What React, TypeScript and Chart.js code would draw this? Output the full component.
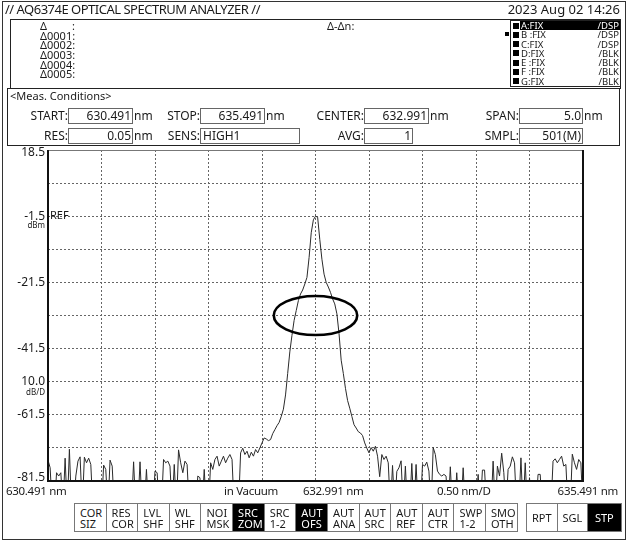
import React, { useEffect, useRef } from "react";
import { Chart, registerables } from "chart.js";

Chart.register(...registerables);

// ---------- data ----------
const START_NM = 630.491;
const STOP_NM = 635.491;
const STEP_NM = 0.02; // sample spacing used for the hand-read trace
const Y_MIN = -81.5;
const Y_MAX = 18.5;

const xTickValues = [630.491, 630.991, 631.491, 631.991, 632.491, 632.991, 633.491, 633.991, 634.491, 634.991, 635.491];
const yTickValues = [18.5, 8.5, -1.5, -11.5, -21.5, -31.5, -41.5, -51.5, -61.5, -71.5, -81.5];
// inner tick labels drawn by the axis; the two edge labels are nudged inside the plot height
const yTickLabels = ["", "", "-1.5", "", "-21.5", "", "-41.5", "10.0", "-61.5", "", ""];
const yEdgeLabels = ["18.5", "-81.5"];

// level in dBm, one value every STEP_NM starting at START_NM (-90 = below display floor)
const levelsDbm = [
  -75.2, -77.5, -90, -90, -79, -80, -79, -90, -74.6, -90,
  -71.9, -90, -90, -80, -75.5, -74.2, -90, -74.3, -76, -74.6,
  -76.5, -90, -90, -90, -90, -90, -76.7, -78, -90, -75.2,
  -77, -90, -90, -90, -90, -90, -90, -90, -90, -90,
  -75.7, -90, -90, -75.7, -90, -90, -78, -90, -90, -90,
  -78.5, -79, -90, -90, -75, -76, -75.5, -77, -90, -76.5,
  -90, -72.1, -76, -79, -75.5, -76.5, -90, -90, -90, -90,
  -80, -80.5, -90, -78, -90, -90, -76, -78, -75, -74,
  -77, -75.5, -74, -76, -74.6, -73.5, -75, -90, -90, -90,
  -73, -71.6, -73.5, -72.5, -74.5, -72.8, -74, -72, -73, -71.5,
  -70, -68.5, -68.8, -69.3, -69, -67.2, -66, -64.8, -63.8, -62,
  -59.8, -55.5, -49, -42.5, -37.5, -33, -30, -27, -25, -23.8,
  -22, -20, -14, -6.5, -2.6, -1.5, -1.8, -8.5, -14.5, -19,
  -21.5, -22.9, -24.5, -26.5, -28, -31, -37, -45, -49, -53.5,
  -57.2, -59.5, -62, -64.5, -65.5, -66.6, -67, -67.8, -70, -71.6,
  -73, -71.4, -72.5, -71, -74, -80.2, -73.5, -75, -74, -76,
  -90, -76.8, -90, -78.6, -77.5, -75.4, -90, -77, -90, -90,
  -76.2, -90, -76.5, -90, -90, -76.5, -77, -75.8, -78.5, -90,
  -71.4, -73.5, -78.5, -79.5, -80, -79.5, -80, -90, -77.2, -90,
  -90, -79, -90, -90, -77.5, -90, -90, -90, -90, -90,
  -90, -79.5, -90, -78.2, -78.2, -90, -90, -90, -75.5, -90,
  -77, -80, -73.1, -79, -90, -78, -77, -74.2, -76, -90,
  -90, -74.5, -90, -76, -90, -80.5, -90, -90, -90, -79.5,
  -79.5, -90, -90, -90, -90, -90, -75.5, -74.8, -76, -75,
  -74, -77, -76.5, -90, -90, -73.4, -76, -78, -75, -76,
  -90,
];

// highlight ellipse annotation (value coordinates)
const ellipseCenterNm = 632.991;
const ellipseCenterDbm = -31.5;
const ellipseHalfWidthNm = 0.39;
const ellipseHalfHeightDb = 5.9;

const deltaRows = ["Δ0001:", "Δ0002:", "Δ0003:", "Δ0004:", "Δ0005:"];
const traceNames = ["A:FIX", "B :FIX", "C:FIX", "D:FIX", "E :FIX", "F :FIX", "G:FIX"];
const traceModes = ["/DSP", "/DSP", "/DSP", "/BLK", "/BLK", "/BLK", "/BLK"];
const softKeysTop = ["COR", "RES", "LVL", "WL", "NOI", "SRC", "SRC", "AUT", "AUT", "AUT", "AUT", "AUT", "SWP", "SMO"];
const softKeysBottom = ["SIZ", "COR", "SHF", "SHF", "MSK", "ZOM", "1-2", "OFS", "ANA", "SRC", "REF", "CTR", "1-2", "OTH"];
const softKeysActive = [false, false, false, false, false, true, false, true, false, false, false, false, false, false];
const sweepKeys = ["RPT", "SGL", "STP"];
const sweepActive = [false, false, true];

const FONT = '"Noto Sans", "DejaVu Sans", sans-serif';
const INK = "#1a1a1a";

type Field = { label: string; left: number; top: number; width: number; value: string; unit: string; alignLeft?: boolean };
const fields: Field[] = [
  { label: "START:", left: 68, top: 108, width: 65, value: "630.491", unit: "nm" },
  { label: "STOP:", left: 200, top: 108, width: 65, value: "635.491", unit: "nm" },
  { label: "CENTER:", left: 364, top: 108, width: 65, value: "632.991", unit: "nm" },
  { label: "SPAN:", left: 519, top: 108, width: 64, value: "5.0", unit: "nm" },
  { label: "RES:", left: 68, top: 128, width: 65, value: "0.05", unit: "nm" },
  { label: "SENS:", left: 200, top: 128, width: 100, value: "HIGH1", unit: "", alignLeft: true },
  { label: "AVG:", left: 364, top: 128, width: 49, value: "1", unit: "" },
  { label: "SMPL:", left: 519, top: 128, width: 64, value: "501(M)", unit: "" },
];

const abs = (s: React.CSSProperties): React.CSSProperties => ({ position: "absolute", boxSizing: "border-box", ...s });

export default function App() {
  const canvasRef = useRef<HTMLCanvasElement | null>(null);

  useEffect(() => {
    const canvas = canvasRef.current;
    if (!canvas) return;
    const points = levelsDbm.map((v, k) => ({ x: START_NM + k * STEP_NM, y: v }));

    const overlay = {
      id: "osaOverlay",
      afterDraw(chart: any) {
        const { ctx, chartArea: a, scales } = chart;
        const xs = scales.x;
        const ys = scales.y;
        ctx.save();
        // plot frame
        ctx.strokeStyle = "#777";
        ctx.lineWidth = 1;
        ctx.beginPath();
        ctx.moveTo(a.left, a.top + 0.5);
        ctx.lineTo(a.right, a.top + 0.5);
        ctx.stroke();
        ctx.strokeStyle = "#111";
        ctx.lineWidth = 2;
        ctx.beginPath();
        ctx.moveTo(a.left, a.top);
        ctx.lineTo(a.left, a.bottom);
        ctx.lineTo(a.right, a.bottom);
        ctx.lineTo(a.right, a.top);
        ctx.stroke();

        // ellipse annotation
        const cx = xs.getPixelForValue(ellipseCenterNm);
        const cy = ys.getPixelForValue(ellipseCenterDbm);
        const rx = xs.getPixelForValue(ellipseCenterNm + ellipseHalfWidthNm) - cx;
        const ry = ys.getPixelForValue(ellipseCenterDbm - ellipseHalfHeightDb) - cy;
        ctx.strokeStyle = "#000";
        ctx.lineWidth = 2.6;
        ctx.beginPath();
        ctx.ellipse(cx, cy, rx, ry, 0, 0, Math.PI * 2);
        ctx.stroke();

        // edge level labels
        ctx.fillStyle = INK;
        ctx.textBaseline = "middle";
        ctx.textAlign = "right";
        ctx.font = `12px ${FONT}`;
        ctx.fillText(yEdgeLabels[0], a.left - 3, ys.getPixelForValue(Y_MAX) + 3);
        ctx.fillText(yEdgeLabels[1], a.left - 3, ys.getPixelForValue(Y_MIN) - 3);

        // level annotations
        ctx.textAlign = "left";
        ctx.font = `11px ${FONT}`;
        ctx.fillText("REF", a.left + 2, ys.getPixelForValue(-1.5));
        ctx.textAlign = "right";
        ctx.font = `8px ${FONT}`;
        ctx.fillText("dBm", a.left - 3, ys.getPixelForValue(-1.5) + 10);
        ctx.fillText("dB/D", a.left - 3, ys.getPixelForValue(-51.5) + 11);

        // wavelength annotations
        const ly = a.bottom + 11;
        ctx.font = `11.5px ${FONT}`;
        try {
          (ctx as any).letterSpacing = "-0.3px";
        } catch (e) {}
        ctx.textAlign = "left";
        ctx.fillText(`${START_NM.toFixed(3)} nm`, 6, ly);
        ctx.textAlign = "center";
        ctx.fillText("in Vacuum", 251, ly);
        ctx.textAlign = "left";
        ctx.fillText(`${((START_NM + STOP_NM) / 2).toFixed(3)} nm`, 303, ly);
        ctx.fillText("0.50 nm/D", 437, ly);
        ctx.textAlign = "right";
        ctx.fillText(`${STOP_NM.toFixed(3)} nm`, 618, ly);
        ctx.restore();
      },
    };

    const chart = new Chart(canvas, {
      type: "line",
      data: {
        datasets: [
          {
            data: points,
            borderColor: "#2a2a2a",
            borderWidth: 1,
            pointRadius: 0,
            tension: 0,
            fill: false,
          },
        ],
      },
      options: {
        responsive: false,
        animation: false,
        events: [],
        layout: { padding: { left: 0, top: 150, right: 45, bottom: 0 } },
        plugins: { legend: { display: false }, tooltip: { enabled: false } },
        scales: {
          x: {
            type: "linear",
            min: START_NM,
            max: STOP_NM,
            afterBuildTicks: (s: any) => {
              s.ticks = xTickValues.map((v) => ({ value: v }));
            },
            afterFit: (s: any) => {
              s.height = 61;
            },
            ticks: { display: false },
            grid: { color: "#666", lineWidth: 1, drawTicks: false },
            border: { display: false, dash: [2, 2] },
          },
          y: {
            type: "linear",
            min: Y_MIN,
            max: Y_MAX,
            afterBuildTicks: (s: any) => {
              s.ticks = yTickValues.map((v) => ({ value: v }));
            },
            afterFit: (s: any) => {
              s.width = 48;
            },
            ticks: {
              autoSkip: false,
              padding: 3,
              color: INK,
              font: { family: FONT, size: 12 },
              callback: (v: any) => yTickLabels[yTickValues.indexOf(Number(v))] ?? "",
            },
            grid: { color: "#666", lineWidth: 1, drawTicks: false },
            border: { display: false, dash: [2, 2] },
          },
        },
      },
      plugins: [overlay],
    } as any);

    return () => chart.destroy();
  }, []);

  const rowH = 9.25;

  return (
    <div style={abs({ left: 0, top: 0, width: 628, height: 542, fontFamily: FONT, color: INK, background: "#fff" })}>
      <canvas ref={canvasRef} width={628} height={542} style={abs({ left: 0, top: 0, width: 628, height: 542 })} />

      {/* outer frame */}
      <div style={abs({ left: 2, top: 1, width: 624, height: 539, border: "1px solid #333" })} />

      {/* title row */}
      <div style={abs({ left: 5, top: 1, fontSize: 13, lineHeight: "17px", letterSpacing: "-0.5px", whiteSpace: "nowrap" })}>
        // AQ6374E OPTICAL SPECTRUM ANALYZER //
      </div>
      <div style={abs({ right: 8, top: 1, fontSize: 13, lineHeight: "17px", whiteSpace: "nowrap" })}>2023 Aug 02 14:26</div>

      {/* marker box */}
      <div style={abs({ left: 10, top: 19, width: 611, height: 70, border: "1px solid #222" })} />
      <div style={abs({ left: 40, top: 21, fontSize: 11, lineHeight: "10px" })}>Δ</div>
      <div style={abs({ left: 72, top: 21, fontSize: 11, lineHeight: "10px" })}>:</div>
      {deltaRows.map((t, i) => (
        <div key={t} style={abs({ left: 40, top: 21 + (i + 1) * 9.65, fontSize: 11, lineHeight: "10px", whiteSpace: "nowrap" })}>
          {t}
        </div>
      ))}
      <div style={abs({ left: 327, top: 21, fontSize: 11, lineHeight: "10px", whiteSpace: "nowrap" })}>Δ-Δn:</div>

      {/* trace list */}
      <div style={abs({ left: 505, top: 32, width: 4, height: 4, background: "#000" })} />
      <div style={abs({ left: 510, top: 20, width: 111, height: 67, border: "1px solid #222" })} />
      {traceNames.map((n, i) => {
        const top = 21 + i * rowH;
        const on = i === 0;
        return (
          <React.Fragment key={n}>
            <div style={abs({ left: 513, top: top + 1.5, width: 6, height: 6, background: "#000" })} />
            {on && <div style={abs({ left: 520, top, width: 100, height: rowH, background: "#000" })} />}
            <div style={abs({ left: 521, top, fontSize: 9.5, lineHeight: `${rowH}px`, color: on ? "#fff" : INK, whiteSpace: "nowrap" })}>{n}</div>
            <div style={abs({ right: 628 - 619, top, fontSize: 9.5, lineHeight: `${rowH}px`, color: on ? "#fff" : INK, whiteSpace: "nowrap" })}>
              {traceModes[i]}
            </div>
          </React.Fragment>
        );
      })}

      {/* measurement conditions */}
      <div style={abs({ left: 7, top: 88, width: 613, height: 58, border: "1px solid #222" })} />
      <div style={abs({ left: 10, top: 89, fontSize: 11, lineHeight: "14px", whiteSpace: "nowrap" })}>&lt;Meas. Conditions&gt;</div>
      {fields.map((f) => (
        <React.Fragment key={f.label}>
          <div style={abs({ right: 628 - f.left, top: f.top, fontSize: 12, lineHeight: "16px", whiteSpace: "nowrap" })}>{f.label}</div>
          <div
            style={abs({
              left: f.left,
              top: f.top,
              width: f.width,
              height: 16,
              border: "1px solid #666",
              fontSize: 12,
              lineHeight: "14px",
              textAlign: f.alignLeft ? "left" : "right",
              padding: "0 1px 0 2px",
              whiteSpace: "nowrap",
            })}
          >
            {f.value}
          </div>
          {f.unit && (
            <div style={abs({ left: f.left + f.width + 1, top: f.top, fontSize: 12, lineHeight: "16px" })}>{f.unit}</div>
          )}
        </React.Fragment>
      ))}

      {/* soft keys */}
      {softKeysTop.map((t, i) => {
        const on = softKeysActive[i];
        return (
          <div
            key={i}
            style={abs({
              left: 74 + i * 31.62,
              top: 503,
              width: 32.6,
              height: 29,
              border: "1px solid #777",
              background: on ? "#000" : "#fff",
              color: on ? "#fff" : INK,
              fontSize: 11,
              lineHeight: "10.5px",
              padding: "4px 0 0 5px",
              whiteSpace: "nowrap",
            })}
          >
            <div>{t}</div>
            <div>{softKeysBottom[i]}</div>
          </div>
        );
      })}
      {sweepKeys.map((t, i) => {
        const lefts = [526, 556.7, 587];
        const widths = [31.7, 31.3, 34.7];
        const on = sweepActive[i];
        return (
          <div
            key={t}
            style={abs({
              left: lefts[i],
              top: 503,
              width: widths[i],
              height: 29,
              border: "1px solid #777",
              background: on ? "#000" : "#fff",
              color: on ? "#fff" : INK,
              fontSize: 11,
              lineHeight: "27px",
              textAlign: "center",
            })}
          >
            {t}
          </div>
        );
      })}
    </div>
  );
}
